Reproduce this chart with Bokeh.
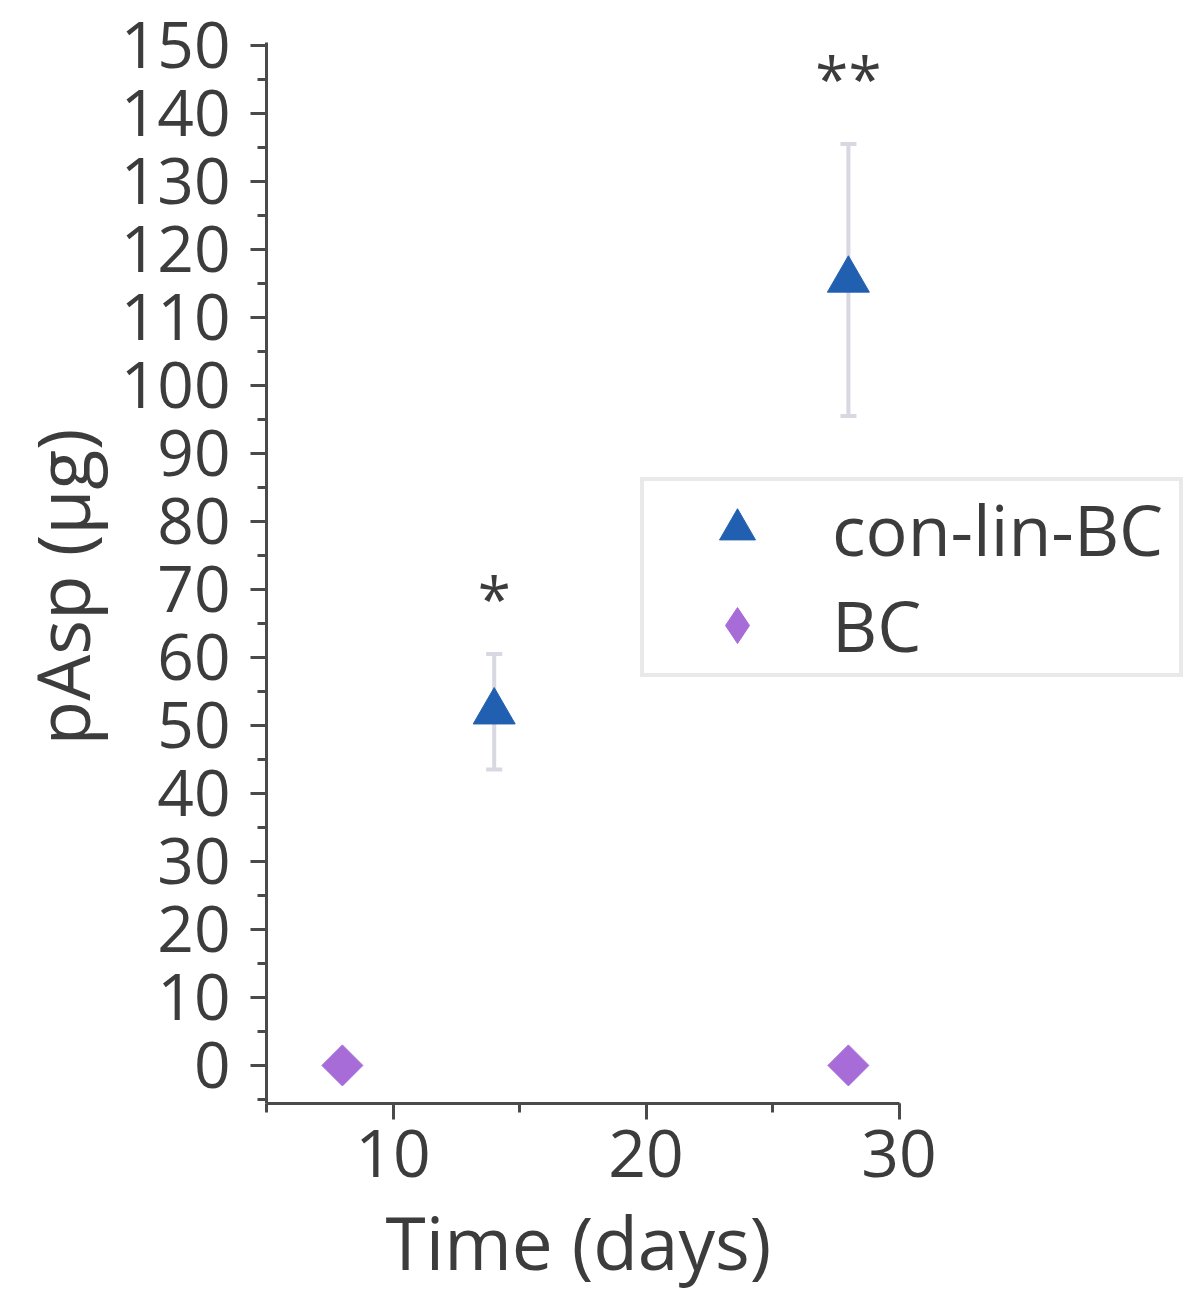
import numpy as np
from bokeh.plotting import figure
from bokeh.models import (ColumnDataSource, Range1d, SingleIntervalTicker, Whisker,
                          TeeHead, Legend, LegendItem, Title)
from bokeh.core.properties import value
from bokeh.embed import file_html
from bokeh.resources import INLINE

# ---- data ----
conlin_days = [14, 28]
conlin_mean = [52, 115.5]
conlin_err = [8.5, 20]
bc_days = [8, 28]
bc_mean = [0, 0]
sig_days = [14, 28]
sig_y = [69.5, 146]
sig_labels = ["*", "**"]
series_names = ["con-lin-BC", "BC"]
x_title = "Time (days)"
y_title = "pAsp (µg)"

FONT = "Open Sans"
TXT = "#3c3c3c"
AX = "#4a4a4a"
BLUE = "#2160b0"
PURPLE = "#a86cd8"

px_per_y = 6.8
px_per_x = 25.3
frame_w, frame_h = 920, 1093
y0 = -5.6
x0 = 5

p = figure(frame_width=frame_w, frame_height=frame_h,
           x_range=Range1d(x0, x0 + frame_w / px_per_x),
           y_range=Range1d(y0, y0 + frame_h / px_per_y),
           output_backend="svg", toolbar_location=None,
           min_border_left=266, min_border_right=2, min_border_top=10, min_border_bottom=197)
p.outline_line_color = None
p.xgrid.visible = False
p.ygrid.visible = False
p.background_fill_color = "white"
p.border_fill_color = "white"

# axes
for ax in (p.xaxis[0], p.yaxis[0]):
    ax.axis_line_color = AX
    ax.axis_line_width = 3
    ax.major_tick_line_color = AX
    ax.major_tick_line_width = 3
    ax.minor_tick_line_color = AX
    ax.minor_tick_line_width = 3
    ax.major_tick_out = 16
    ax.major_tick_in = 0
    ax.minor_tick_out = 9
    ax.minor_tick_in = 0
    ax.major_label_text_font = FONT
    ax.major_label_text_color = TXT

p.xaxis[0].ticker = SingleIntervalTicker(interval=10, num_minor_ticks=2)
p.xaxis[0].bounds = (5, 30)
p.xaxis[0].major_label_text_font_size = "66px"
p.xaxis[0].major_label_standoff = 10

p.yaxis[0].ticker = SingleIntervalTicker(interval=10, num_minor_ticks=2)
p.yaxis[0].bounds = (y0, 150.5)
p.yaxis[0].major_label_text_font_size = "64px"
p.yaxis[0].major_label_standoff = 20

# axis titles (centred on the drawn axis extent, as in the reference)
xt = Title(text=x_title, align="left", offset=119, standoff=24, vertical_align="top",
           text_font=FONT, text_font_size="73px", text_font_style="normal",
           text_color=TXT)
p.add_layout(xt, "below")
yt = Title(text=y_title, align="left", offset=358, standoff=14,
           text_font=FONT, text_font_size="73px", text_font_style="normal",
           text_color=TXT)
p.add_layout(yt, "left")

# data sources
src_c = ColumnDataSource(dict(x=conlin_days, y=conlin_mean,
                              upper=[m + e for m, e in zip(conlin_mean, conlin_err)],
                              lower=[m - e for m, e in zip(conlin_mean, conlin_err)]))
src_b = ColumnDataSource(dict(x=bc_days, y=bc_mean))
src_leg = ColumnDataSource(dict(x=[np.nan], y=[np.nan]))

whisk = Whisker(base="x", upper="upper", lower="lower", source=src_c,
                line_color="#d8d8e2", line_width=4,
                upper_head=TeeHead(size=16, line_color="#d8d8e2", line_width=4),
                lower_head=TeeHead(size=16, line_color="#d8d8e2", line_width=4))
p.add_layout(whisk)

r_c = p.scatter("x", "y", source=src_c, marker="triangle", size=42,
                fill_color=BLUE, line_color=BLUE)
r_b = p.scatter("x", "y", source=src_b, marker="square", angle=np.pi / 4, size=29,
                fill_color=PURPLE, line_color=PURPLE)
r_b_leg = p.scatter("x", "y", source=src_leg, marker="diamond", size=36,
                    fill_color=PURPLE, line_color=PURPLE)

p.text(x=sig_days, y=sig_y, text=sig_labels, text_font=value(FONT),
       text_font_size="60px", text_align="center", text_baseline="middle",
       text_color=TXT, y_offset=5)

legend = Legend(items=[LegendItem(label=series_names[0], renderers=[r_c], index=0),
                       LegendItem(label=series_names[1], renderers=[r_b_leg], index=0)],
                location=(374, 426), orientation="vertical",
                glyph_height=90, glyph_width=186, label_height=90,
                label_standoff=2, label_width=347, spacing=-10, padding=0,
                margin=0,
                label_text_font=FONT, label_text_font_size="70px",
                label_text_color=TXT, label_text_baseline="middle",
                border_line_color="#d4d4d4", border_line_width=4,
                background_fill_color="white", background_fill_alpha=1.0)
p.add_layout(legend)

open("out.html", "w").write(file_html(p, INLINE))
